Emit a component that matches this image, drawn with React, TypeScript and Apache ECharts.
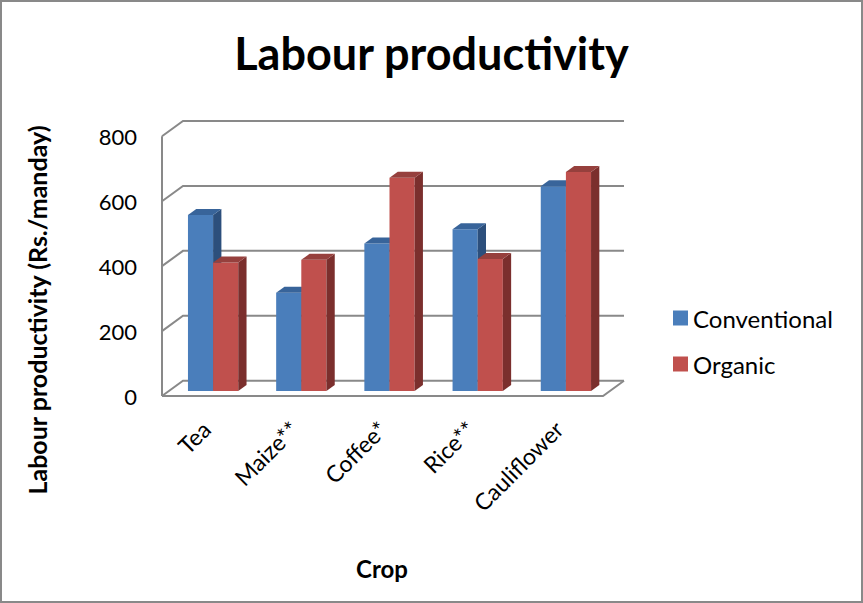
import React, { useEffect, useRef } from "react";
import * as echarts from "echarts";

const categories = ["Tea", "Maize**", "Coffee*", "Rice**", "Cauliflower"];
const conventional = [542, 303, 454, 498, 631];
const organic = [396, 404, 657, 407, 675];
const yTicks = [0, 200, 400, 600, 800];

const FONT = "Lato, 'Open Sans', sans-serif";
const GRID_COLOR = "#898989";
// depth offsets
const WALL_DX = 21;
const WALL_DY = -15.3;
const BAR_PLANE_DX = 7;
const BAR_PLANE_DY = -5;
const BAR_DX = 8.3;
const BAR_DY = -6;

const palette = {
  conventional: { front: "#4A7EBB", top: "#38649A", side: "#2C4F7C" },
  organic: { front: "#C0504D", top: "#96403D", side: "#7B2F2D" },
};

function makeBarRender(which: "conventional" | "organic") {
  const col = palette[which];
  return (params: any, api: any) => {
    const cat = api.value(0);
    const val = api.value(1);
    const base = api.coord([cat, 0]);
    const topPt = api.coord([cat, val]);
    const band = api.size([1, 0])[0];
    const bw = band * 0.285;
    const cx = base[0] + BAR_PLANE_DX;
    const xl = which === "conventional" ? cx - bw : cx;
    const xr = xl + bw;
    const yb = base[1] + BAR_PLANE_DY;
    const yt = topPt[1] + BAR_PLANE_DY;
    return {
      type: "group",
      children: [
        {
          type: "rect",
          shape: { x: xl, y: yt, width: bw, height: yb - yt },
          style: { fill: col.front },
        },
        {
          type: "polygon",
          shape: {
            points: [
              [xr, yt],
              [xr + BAR_DX, yt + BAR_DY],
              [xr + BAR_DX, yb + BAR_DY],
              [xr, yb],
            ],
          },
          style: { fill: col.side },
        },
        {
          type: "polygon",
          shape: {
            points: [
              [xl, yt],
              [xr, yt],
              [xr + BAR_DX, yt + BAR_DY],
              [xl + BAR_DX, yt + BAR_DY],
            ],
          },
          style: { fill: col.top },
        },
      ],
    };
  };
}

function gridRender(params: any, api: any) {
  const v = api.value(1);
  const cs = params.coordSys;
  const left = cs.x;
  const right = cs.x + cs.width;
  const y = api.coord([0, v])[1];
  const children: any[] = [
    {
      type: "polyline",
      shape: {
        points: [
          [left, y],
          [left + WALL_DX, y + WALL_DY],
          [right + WALL_DX, y + WALL_DY],
        ],
      },
      style: { stroke: GRID_COLOR, lineWidth: 2, fill: "none" },
    },
  ];
  if (v === 0) {
    const yTop = api.coord([0, yTicks[yTicks.length - 1]])[1];
    children.push({
      type: "polyline",
      shape: {
        points: [
          [left, y],
          [right, y],
          [right + WALL_DX, y + WALL_DY],
        ],
      },
      style: { stroke: GRID_COLOR, lineWidth: 2, fill: "none" },
    });
    children.push({
      type: "line",
      shape: { x1: left, y1: y, x2: left, y2: yTop },
      style: { stroke: GRID_COLOR, lineWidth: 2 },
    });
  }
  return { type: "group", children };
}

export default function App() {
  const ref = useRef<HTMLDivElement>(null);
  useEffect(() => {
    if (!ref.current) return;
    const chart = echarts.init(ref.current, undefined, { renderer: "svg" });
    chart.setOption({
      animation: false,
      backgroundColor: "#ffffff",
      title: {
        text: "Labour productivity",
        left: "center",
        top: 25,
        textStyle: { fontFamily: FONT, fontWeight: "bold", fontSize: 45, color: "#000" },
      },
      legend: {
        orient: "vertical",
        left: 673,
        top: 306,
        padding: 0,
        itemWidth: 15,
        itemHeight: 15,
        itemGap: 22,
        itemTextGap: 6,
        icon: "rect",
        data: ["Conventional", "Organic"],
        textStyle: { fontFamily: FONT, fontSize: 24, color: "#000" },
      },
      grid: { left: 162, right: 260, top: 136.3, bottom: 207 },
      xAxis: {
        type: "category",
        data: categories,
        axisLine: { show: false },
        axisTick: { show: false },
        axisLabel: {
          rotate: 45,
          margin: 29,
          fontFamily: FONT,
          fontSize: 23,
          color: "#000",
        },
      },
      yAxis: {
        type: "value",
        min: 0,
        max: 800,
        interval: 200,
        axisLine: { show: false },
        axisTick: { show: false },
        splitLine: { show: false },
        axisLabel: { margin: 25, fontFamily: FONT, fontSize: 22, color: "#000" },
      },
      graphic: [
        {
          type: "rect",
          shape: { x: 1, y: 1, width: 861, height: 601 },
          style: { fill: "none", stroke: "#898989", lineWidth: 2 },
          silent: true,
        },
        {
          type: "text",
          x: 37,
          y: 310,
          rotation: Math.PI / 2,
          style: {
            text: "Labour productivity (Rs./manday)",
            fontFamily: FONT,
            fontWeight: "bold",
            fontSize: 25,
            fill: "#000",
            textAlign: "center",
            textVerticalAlign: "middle",
          },
        },
        {
          type: "text",
          x: 382,
          y: 568,
          style: {
            text: "Crop",
            fontFamily: FONT,
            fontWeight: "bold",
            fontSize: 24,
            fill: "#000",
            textAlign: "center",
            textVerticalAlign: "middle",
          },
        },
      ],
      series: [
        {
          name: "grid",
          type: "custom",
          renderItem: gridRender,
          data: yTicks.map((v) => [0, v]),
          z: 1,
          silent: true,
        },
        {
          name: "Conventional",
          type: "custom",
          renderItem: makeBarRender("conventional"),
          itemStyle: { color: palette.conventional.front },
          data: conventional.map((v, i) => [i, v]),
          z: 2,
        },
        {
          name: "Organic",
          type: "custom",
          renderItem: makeBarRender("organic"),
          itemStyle: { color: palette.organic.front },
          data: organic.map((v, i) => [i, v]),
          z: 3,
        },
      ],
    });
    return () => chart.dispose();
  }, []);
  return (
    <div
      ref={ref}
      style={{ position: "fixed", left: 0, top: 0, width: 863, height: 603 }}
    />
  );
}
